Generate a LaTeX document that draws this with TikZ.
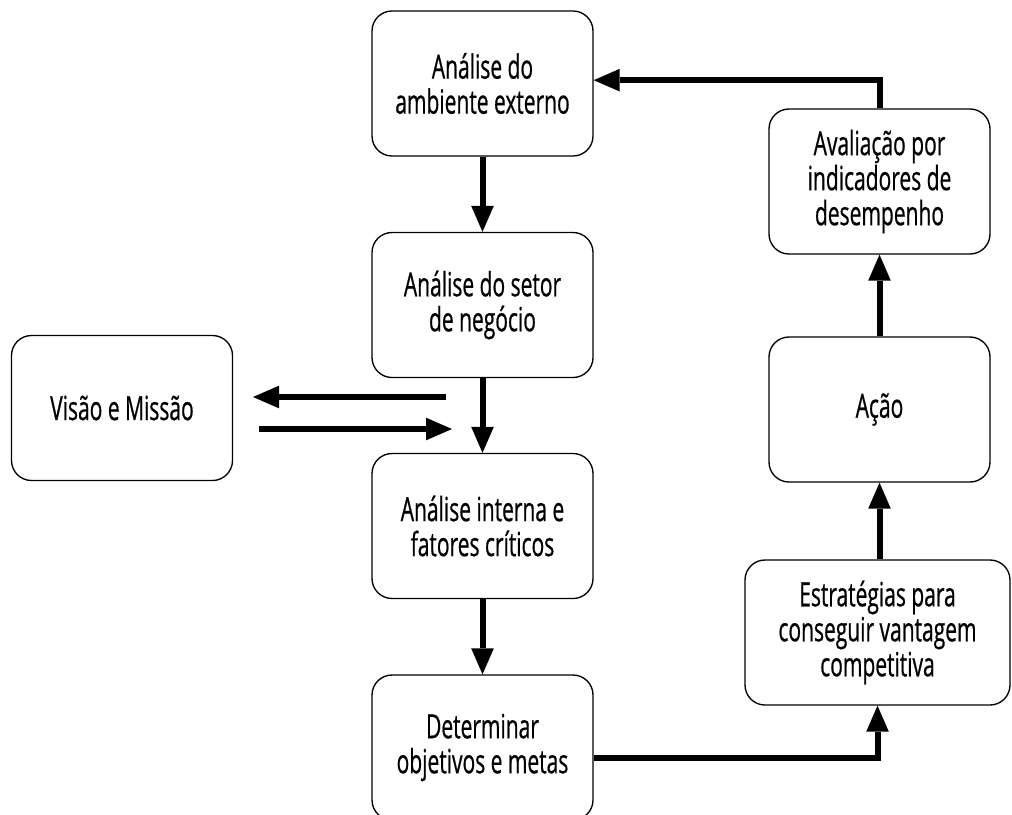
\documentclass[tikz,border=0pt]{standalone}
\usepackage{fontspec}
\setmainfont{Open Sans}[FakeStretch=0.63, FakeBold=0.6]
\usetikzlibrary{arrows.meta,positioning}
\tikzset{
    etapa/.style={draw, line width=1pt, rounded corners=15pt, minimum width=165.75pt, minimum height=108.75pt, align=center, inner sep=0pt, font=\fontsize{25}{26.25}\selectfont}, % caixa de cada etapa
    fluxo/.style={line width=4.5pt, -{Triangle[length=19.5pt, width=17pt, line width=0pt]}} % seta grossa
}

\begin{document}
\begin{tikzpicture}[x=0.75pt, y=-0.75pt]
    \clip (0,0) rectangle (1012,814);

    % coluna central
    \node[etapa] (amb) at (482.5,83.5) {Análise do\\ambiente externo};
    \node[etapa] (setor) at (482.5,305) {Análise do setor\\de negócio};
    \node[etapa] (interna) at (482.5,526) {Análise interna e\\fatores críticos};
    \node[etapa] (metas) at (482.5,747.5) {Determinar\\objetivos e metas};
    \node[etapa] (visao) at (122,408) {Visão e Missão};

    % coluna da direita
    \node[etapa] (aval) at (879.5,181.5) {Avaliação por\\indicadores de\\desempenho};
    \node[etapa] (acao) at (879.5,409.5) {Ação};
    \node[etapa, minimum width=198.75pt] (estr) at (877.5,632.5) {Estratégias para\\conseguir vantagem\\competitiva};

    \coordinate (vm1) at (446,397); \coordinate (vm2) at (253,397);
    \coordinate (vm3) at (259,429); \coordinate (vm4) at (452,429);

    \draw[fluxo] (amb) -- (setor);
    \draw[fluxo] (setor) -- (interna);
    \draw[fluxo] (interna) -- (metas);
    \draw[fluxo] (vm1) -- (vm2);
    \draw[fluxo] (vm3) -- (vm4);
    \draw[fluxo] ([yshift=-7.5pt]metas.east) -| (estr.south);
    \draw[fluxo] (estr.north -| acao) -- (acao.south);
    \draw[fluxo] (acao) -- (aval);
    \draw[fluxo] (aval.north) |- ([yshift=2.5pt]amb.east);
\end{tikzpicture}
\end{document}
